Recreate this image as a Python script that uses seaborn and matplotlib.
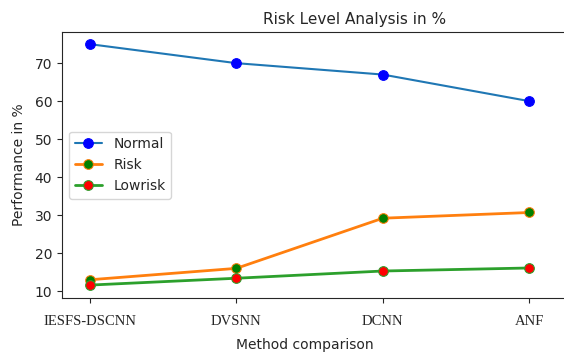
import numpy as np
import pandas as pd
import seaborn as sns
import matplotlib.pyplot as plt

methods = ['IESFS-DSCNN', 'DVSNN', 'DCNN', 'ANF']
normal = [75.0, 70.0, 67.0, 60.0]
risk = [13.0, 16.0, 29.2, 30.7]
lowrisk = [11.6, 13.4, 15.3, 16.1]

sns.set_style('ticks')
plt.rcParams['font.family'] = ['DejaVu Sans']

fig = plt.figure(figsize=(5.64, 3.54), dpi=100)
# axes runs past the right edge, as in the cropped original
ax = fig.add_axes([62 / 564, 56 / 354, 586 / 564, 266 / 354])

x = np.arange(len(methods))
df = pd.DataFrame({'x': x, 'Normal': normal, 'Risk': risk, 'Lowrisk': lowrisk})

sns.lineplot(data=df, x='x', y='Normal', ax=ax, color='#1f77b4', marker='o',
             markersize=7, markerfacecolor='blue', markeredgecolor='blue',
             linewidth=1.5, label='Normal')
sns.lineplot(data=df, x='x', y='Risk', ax=ax, color='#ff7f0e', marker='o',
             markersize=7, markerfacecolor='green', markeredgecolor='#ff7f0e',
             linewidth=2, label='Risk')
sns.lineplot(data=df, x='x', y='Lowrisk', ax=ax, color='#2ca02c', marker='o',
             markersize=7, markerfacecolor='red', markeredgecolor='#2ca02c',
             linewidth=2, label='Lowrisk')

ax.set_xlim(-0.19, 3.81)
ax.set_ylim(8.2, 78.2)
ax.set_yticks([10, 20, 30, 40, 50, 60, 70])
ax.set_xticks(x)
ax.set_xticklabels(methods, fontfamily='Liberation Serif', fontsize=10.5)
ax.tick_params(axis='x', pad=9)
ax.spines['right'].set_visible(False)

ax.set_title('Risk Level Analysis in %', fontsize=11)
ax.set_ylabel('Performance in %', fontsize=10)
ax.yaxis.set_label_coords(-0.062, 0.5)
ax.set_xlabel('Method comparison', fontsize=10)
ax.xaxis.set_label_coords((305 - 62) / 586, -0.15)

ax.legend(loc='center left', fontsize=10, frameon=True)

plt.savefig('out.png', dpi=100)
